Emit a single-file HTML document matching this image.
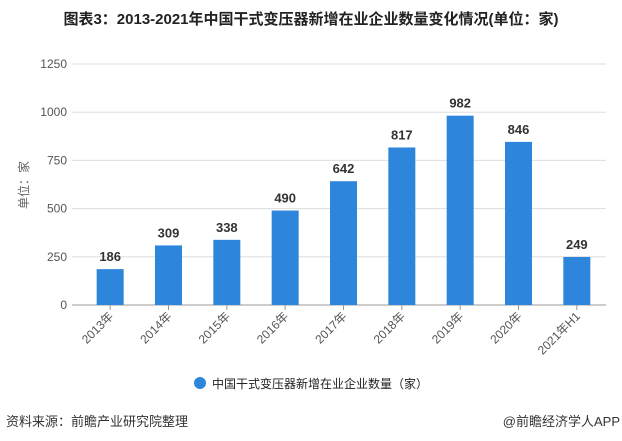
<!DOCTYPE html>
<html><head><meta charset="utf-8"><style>
body{margin:0;width:622px;height:441px;background:#fff;font-family:"Liberation Sans","Noto Sans CJK SC",sans-serif;overflow:hidden;position:relative}
.t{position:absolute;white-space:nowrap}
</style></head><body>
<div class="t" style="left:0;top:8px;width:622px;text-align:center;font-weight:bold;font-size:15px;color:#222">图表3：2013-2021年中国干式变压器新增在业企业数量变化情况(单位：家)</div>
<svg id="c" width="622" height="441" style="position:absolute;left:0;top:0"></svg>
<div class="t" style="left:6px;top:411px;font-size:13px;color:#333">资料来源：前瞻产业研究院整理</div>
<div class="t" style="right:2px;top:411px;font-size:13px;color:#333">@前瞻经济学人APP</div>
<script>
const categories=["2013年","2014年","2015年","2016年","2017年","2018年","2019年","2020年","2021年H1"];
const values=[186,309,338,490,642,817,982,846,249];
const yTicks=[0,250,500,750,1000,1250];
const svg=document.getElementById('c');const NS='http://www.w3.org/2000/svg';
const gx0=72,x0=81,x1=606,y0=305,y1=64,ymax=1250;
const y=v=>y0-(v/ymax)*(y0-y1);
const step=(x1-x0)/categories.length;
const xc=i=>x0+step*(i+0.5);
function mk(t,a,txt){const e=document.createElementNS(NS,t);for(const k in a)e.setAttribute(k,a[k]);if(txt!=null)e.textContent=txt;svg.appendChild(e);return e;}
yTicks.forEach(v=>{
 const g=mk('line',{x1:gx0,x2:x1,y1:y(v),y2:y(v),stroke:v===0?'#999':'#ddd','stroke-width':1});
 
 
 const t=mk('text',{x:67,y:y(v)+4,'text-anchor':'end','font-size':12,fill:'#555','font-family':'Liberation Sans, sans-serif'},v);
 
 
});
const yt=mk('text',{transform:'translate(28,185) rotate(-90)','text-anchor':'middle','font-size':12,fill:'#666','font-family':'Liberation Sans, Noto Sans CJK SC, sans-serif'},'单位：家');


const bw=27;
values.forEach((v,i)=>{
 const r=mk('rect',{x:xc(i)-bw/2,y:y(v),width:bw,height:y0-y(v),fill:'#2d86db'});
 
 
 const l=mk('text',{x:xc(i),y:y(v)-8,'text-anchor':'middle','font-size':13,'font-weight':'bold',fill:'#333','font-family':'Liberation Sans, sans-serif'},v);
 
 
 const tk=mk('line',{x1:xc(i),x2:xc(i),y1:y0,y2:y0+5,stroke:'#999'});
 
 
 const c=mk('text',{transform:`translate(${xc(i)+4},${y0+12}) rotate(-45)`,'text-anchor':'end','font-size':12,fill:'#555','font-family':'Liberation Sans, Noto Sans CJK SC, sans-serif'},categories[i]);
 
 
});
const lc=mk('circle',{cx:200,cy:383,r:6,fill:'#2d86db'});


const lt=mk('text',{x:212,y:388,'font-size':12,fill:'#222','font-family':'Liberation Sans, Noto Sans CJK SC, sans-serif'},'中国干式变压器新增在业企业数量（家）');


</script>
</body></html>
